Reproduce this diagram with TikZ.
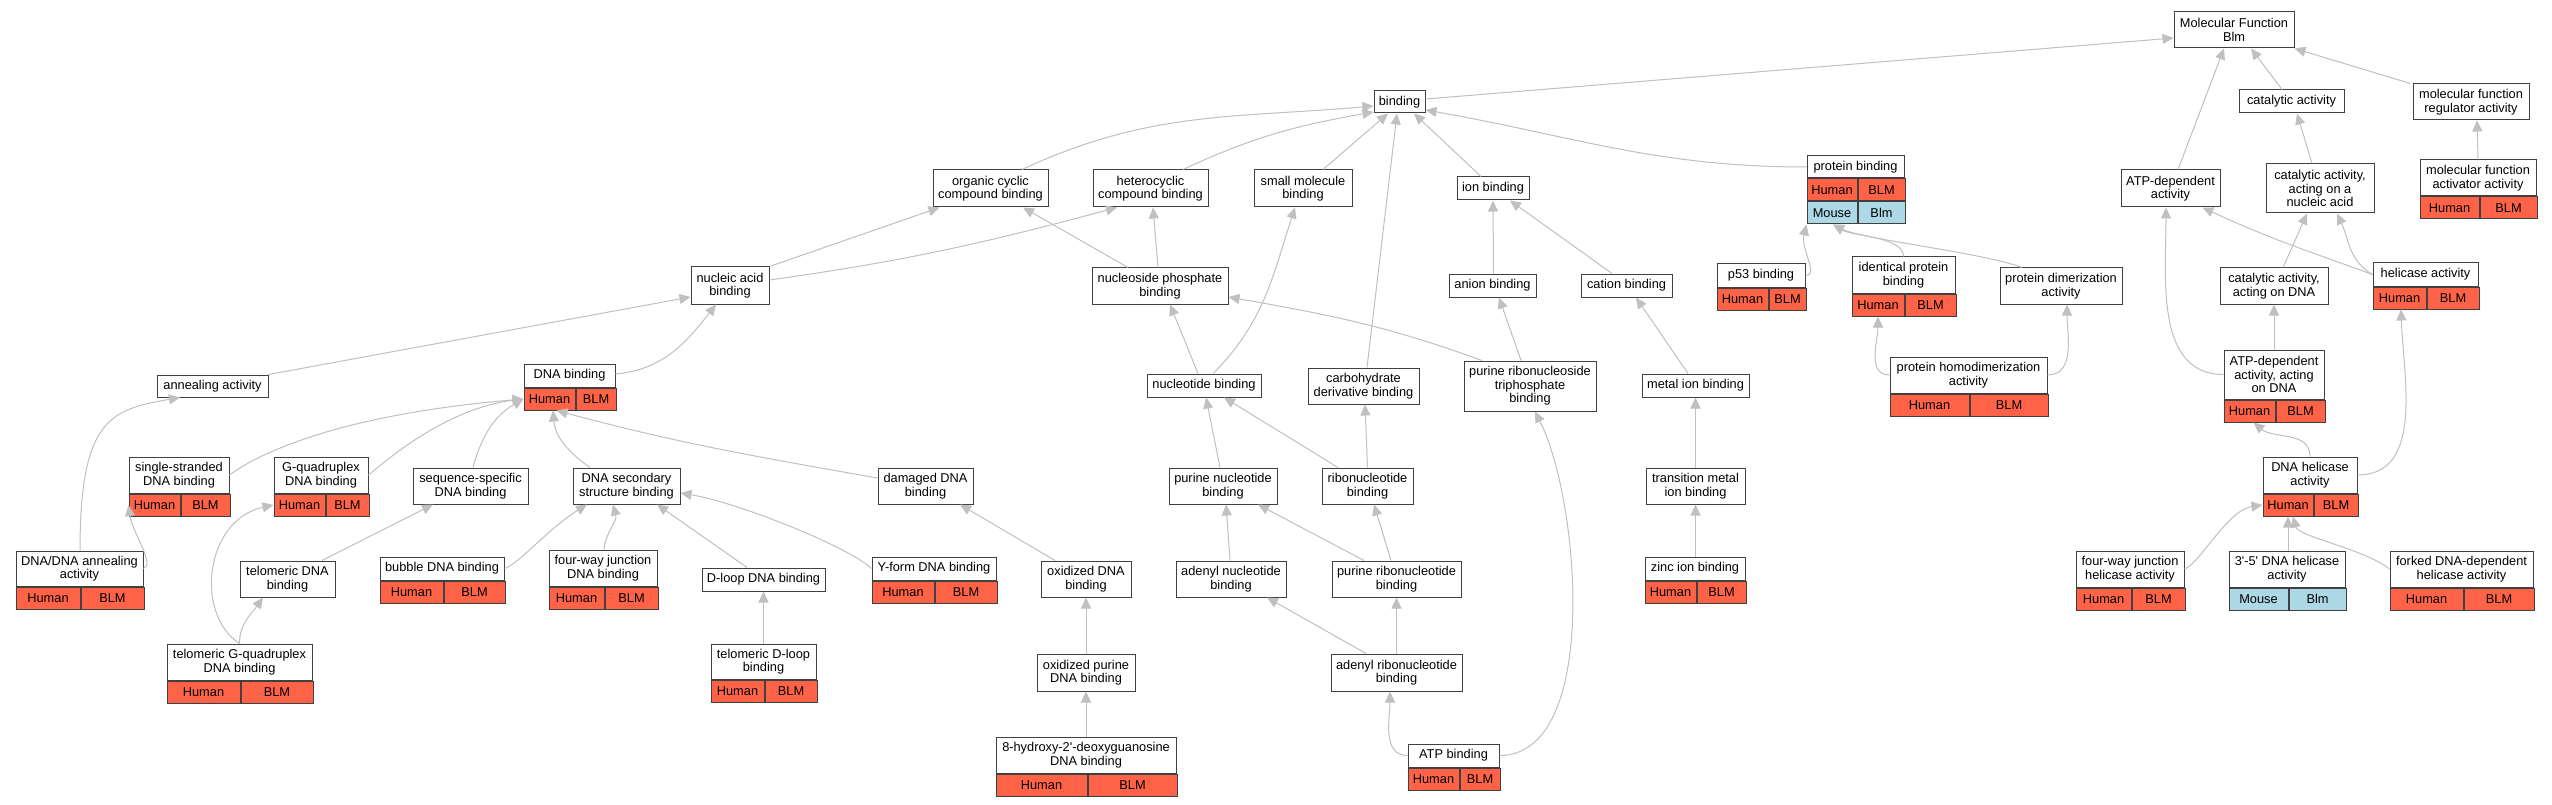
\documentclass[tikz,border=0pt]{standalone}
\usepackage{fontspec}
\newfontfamily\gofont{Liberation Sans}
\usetikzlibrary{arrows.meta}
\definecolor{hum}{HTML}{FF6347}
\definecolor{mus}{HTML}{ADD8E6}
\definecolor{edgegray}{HTML}{C0C0C0}
\tikzset{
  gobox/.style={draw=black!75, line width=1pt, inner sep=0pt, align=center,
    font=\gofont\fontsize{12.8}{13.5}\selectfont},
  term/.style 2 args={gobox, fill=white, minimum width=#1, minimum height=#2},
  cell/.style={gobox, fill=hum, minimum height=22, anchor=north west},
  isa/.style={draw=edgegray, line width=1pt, -{Triangle[length=11pt,width=10pt]}},
}
\begin{document}
\begin{tikzpicture}[x=1pt,y=1pt]
    \path[use as bounding box, fill=white] (0,0) rectangle (2552,-805);

    \node[term={120}{36}] (mf) at (2234,-30) {Molecular Function\\Blm};
    \node[term={51}{22}] (bind) at (1399.5,-102) {binding};
    \node[term={105}{23}] (cat) at (2291.5,-101.5) {catalytic activity};
    \node[term={116}{36}] (mfreg) at (2471,-102) {molecular function\\regulator activity};
    \node[term={115}{37}] (orgcyc) at (990.5,-188.5) {organic cyclic\\compound binding};
    \node[term={115}{37}] (hetcyc) at (1150.5,-188.5) {heterocyclic\\compound binding};
    \node[term={98}{37}] (smallmol) at (1303,-188.5) {small molecule\\binding};
    \node[term={72}{23}] (ionb) at (1493,-188.5) {ion binding};
    \node[term={97}{22}] (protb) at (1855.5,-167) {protein binding};
    \node[term={99}{37}] (atpdep) at (2170.5,-188.5) {ATP-dependent\\activity};
    \node[term={108}{49}] (catna) at (2320,-188.5) {catalytic activity,\\acting on a\\nucleic acid};
    \node[term={116}{36}] (mfact) at (2478,-178) {molecular function\\activator activity};
    \node[term={78}{37}] (nab) at (730,-285.5) {nucleic acid\\binding};
    \node[term={136}{36}] (nspb) at (1160,-286) {nucleoside phosphate\\binding};
    \node[term={87}{23}] (anion) at (1492.5,-285.5) {anion binding};
    \node[term={91}{23}] (cation) at (1626.5,-285.5) {cation binding};
    \node[term={88}{23}] (p53) at (1761,-275.5) {p53 binding};
    \node[term={103}{36}] (idprot) at (1903.5,-275) {identical protein\\binding};
    \node[term={122}{36}] (pdimer) at (2061,-286) {protein dimerization\\activity};
    \node[term={108}{36}] (catdna) at (2274,-286) {catalytic activity,\\acting on DNA};
    \node[term={105}{23}] (helic) at (2425.5,-274.5) {helicase activity};
    \node[term={111}{22}] (anneal) at (212.5,-386) {annealing activity};
    \node[term={91}{23}] (dnab) at (569.5,-375.5) {DNA binding};
    \node[term={114}{23}] (ntb) at (1204,-385.5) {nucleotide binding};
    \node[term={111}{36}] (carbo) at (1363.5,-386) {carbohydrate\\derivative binding};
    \node[term={132}{50}] (prtp) at (1530,-386) {purine ribonucleoside\\triphosphate\\binding};
    \node[term={107}{23}] (metal) at (1695.5,-385.5) {metal ion binding};
    \node[term={157}{36}] (phomo) at (1968.5,-375) {protein homodimerization\\activity};
    \node[term={100}{49}] (atpdna) at (2274,-374.5) {ATP-dependent\\activity, acting\\on DNA};
    \node[term={100}{36}] (ssdna) at (179,-475) {single-stranded\\DNA binding};
    \node[term={94}{36}] (g4) at (321,-475) {G-quadruplex\\DNA binding};
    \node[term={115}{36}] (seqsp) at (470.5,-486) {sequence-specific\\DNA binding};
    \node[term={107}{36}] (dnasec) at (626.5,-486) {DNA secondary\\structure binding};
    \node[term={95}{36}] (damaged) at (925.5,-486) {damaged DNA\\binding};
    \node[term={108}{36}] (purnt) at (1223,-486) {purine nucleotide\\binding};
    \node[term={91}{36}] (ribo) at (1367.5,-486) {ribonucleotide\\binding};
    \node[term={99}{36}] (trans) at (1695.5,-486) {transition metal\\ion binding};
    \node[term={94}{36}] (dnahel) at (2310,-475) {DNA helicase\\activity};
    \node[term={127}{35}] (dnaann) at (79.5,-568.5) {DNA/DNA annealing\\activity};
    \node[term={95}{36}] (telo) at (287.5,-579) {telomeric DNA\\binding};
    \node[term={124}{23}] (bubble) at (442,-568.5) {bubble DNA binding};
    \node[term={108}{36}] (fourway) at (603,-568) {four-way junction\\DNA binding};
    \node[term={123}{23}] (dloop) at (763.5,-579.5) {D-loop DNA binding};
    \node[term={124}{23}] (yform) at (934,-568.5) {Y-form DNA binding};
    \node[term={90}{36}] (oxdna) at (1086,-579) {oxidized DNA\\binding};
    \node[term={110}{36}] (adnt) at (1231,-579) {adenyl nucleotide\\binding};
    \node[term={129}{36}] (purrnt) at (1396.5,-579) {purine ribonucleotide\\binding};
    \node[term={100}{23}] (zinc) at (1695,-568.5) {zinc ion binding};
    \node[term={108}{36}] (fwhel) at (2130,-569) {four-way junction\\helicase activity};
    \node[term={116}{36}] (h35) at (2287,-569) {3'-5' DNA helicase\\activity};
    \node[term={143}{36}] (forked) at (2461.5,-569) {forked DNA-dependent\\helicase activity};
    \node[term={145}{36}] (telog4) at (239.5,-662) {telomeric G-quadruplex\\DNA binding};
    \node[term={105}{35}] (teldloop) at (763.5,-661.5) {telomeric D-loop\\binding};
    \node[term={98}{37}] (oxpur) at (1086,-672.5) {oxidized purine\\DNA binding};
    \node[term={131}{37}] (adrnt) at (1396.5,-672.5) {adenyl ribonucleotide\\binding};
    \node[term={180}{36}] (ohdg) at (1086,-755) {8-hydroxy-2'-deoxyguanosine\\DNA binding};
    \node[term={91}{23}] (atpb) at (1453.5,-755.5) {ATP binding};

    \foreach \n/\a/\b in {protb/50/47, mfact/59/57, p53/51/37, idprot/52/51,
      helic/53/52, dnab/51/40, phomo/79/78, atpdna/51/49, ssdna/51/49, g4/51/43,
      dnahel/50/44, dnaann/64/63, bubble/63/61, fourway/55/53, yform/62/62,
      zinc/51/49, fwhel/55/53, forked/73/70, telog4/73/72, teldloop/53/52,
      ohdg/91/89, atpb/51/40} {
      \node[cell, minimum width=\a] (\n-sp) at (\n.south west) {Human};
      \node[cell, minimum width=\b] (\n-gn) at (\n-sp.north east) {BLM};
    }
    \node[cell, fill=mus, minimum width=50] (protb-ms) at (protb-sp.south west) {Mouse};
    \node[cell, fill=mus, minimum width=47] (protb-mg) at (protb-ms.north east) {Blm};
    \node[cell, fill=mus, minimum width=59] (h35-sp) at (h35.south west) {Mouse};
    \node[cell, fill=mus, minimum width=57] (h35-gn) at (h35-sp.north east) {Blm};

    \draw[isa] ([yshift=3]bind.east) -- ([yshift=-8]mf.west);
    \draw[isa] ([xshift=-9.5]cat.north) -- ([xshift=17]mf.south);
    \draw[isa] ([xshift=-2]mfreg.north west) -- (mf.south east);
    \draw[isa] ([xshift=7.5]atpdep.north) -- ([xshift=-10]mf.south);
    \draw[isa] ([xshift=-8]catna.north) -- ([xshift=5.5]cat.south);
    \draw[isa] (mfact.north) -- ([xshift=6]mfreg.south);
    \draw[isa] ([xshift=9]catdna.north) -- ([xshift=-13]catna.south);
    \draw[isa] (helic.west) to[out=160,in=-25] ([xshift=32]atpdep.south);
    \draw[isa] (helic.west) to[out=150,in=-65] ([xshift=17]catna.south);
    \draw[isa] (atpdna.west) to[out=180,in=-90] ([xshift=-4.5]atpdep.south);
    \draw[isa] (atpdna.north) -- (catdna.south);
    \draw[isa] (dnahel.north) to[out=90,in=-40] ([xshift=4]atpdna-sp.south);
    \draw[isa] (dnahel.east) to[out=0,in=-88] ([xshift=1.5]helic-sp.south);
    \draw[isa] (fwhel.east) .. controls +(15,5) and +(-35,-5) .. (dnahel-sp.west);
    \draw[isa] ([xshift=1]h35.north) -- (dnahel-sp.south);
    \draw[isa] (forked.west) .. controls +(-25,20) and +(5,-20) .. ([xshift=5]dnahel-sp.south);

    \draw[isa] ([xshift=-39]pdimer.north) .. controls +(-40,15) and +(30,-15) .. ([xshift=1]protb-ms.south);
    \draw[isa] (idprot.north) .. controls +(0,20) and +(20,-12) .. ([xshift=1]protb-ms.south);
    \draw[isa] (p53.east) .. controls +(14,0) and +(-6,-25) .. (protb-ms.south west);
    \draw[isa] (phomo.west) to[out=180,in=-90] (idprot-sp.south);
    \draw[isa] (phomo.east) to[out=0,in=-90] ([xshift=6]pdimer.south);
    \draw[isa] (protb.west) to[out=180,in=-10] ([yshift=-8]bind.east);

    \draw[isa] ([xshift=-12]ionb.north) -- ([xshift=14.5]bind.south);
    \draw[isa] ([xshift=1]anion.north) -- (ionb.south);
    \draw[isa] ([xshift=-14.5]cation.north) -- ([xshift=17]ionb.south);
    \draw[isa] ([xshift=-9]prtp.north) -- ([xshift=6.5]anion.south);
    \draw[isa] ([xshift=-7.5]metal.north) -- ([xshift=9.5]cation.south);
    \draw[isa] (trans.north) -- (metal.south);
    \draw[isa] ([xshift=0.5]zinc.north) -- (trans.south);
    \draw[isa] ([xshift=-48]prtp.north) to[out=160,in=-10] ([yshift=-11]nspb.east);

    \draw[isa] ([xshift=-6]ntb.north) -- ([xshift=10]nspb.south);
    \draw[isa] ([xshift=9]ntb.north) to[out=45,in=-108] ([xshift=-8]smallmol.south);
    \draw[isa] ([xshift=3.5]carbo.north) -- ([xshift=-2.5]bind.south);
    \draw[isa] ([xshift=20]smallmol.north) -- ([xshift=-11.5]bind.south);
    \draw[isa] ([xshift=32.5]hetcyc.north) to[out=25,in=190] ([yshift=-10]bind.west);
    \draw[isa] ([xshift=31.5]orgcyc.north) to[out=25,in=185] ([yshift=-4]bind.west);
    \draw[isa] (nab.north east) -- ([xshift=7]orgcyc.south west);
    \draw[isa] ([yshift=5.5]nab.east) to[out=8,in=-165] ([xshift=-33.5]hetcyc.south);
    \draw[isa] ([xshift=-32]nspb.north) -- ([xshift=32.5]orgcyc.south);
    \draw[isa] ([xshift=-2]nspb.north) -- ([xshift=2.5]hetcyc.south);

    \draw[isa] (anneal.north east) -- ([yshift=-11.5]nab.west);
    \draw[isa] ([yshift=1.5]dnab.east) to[out=5,in=-128] ([xshift=-14]nab.south);
    \draw[isa] ([xshift=0.5]dnaann.north) .. controls +(0,131) and +(-70,-12) .. ([xshift=-32.5]anneal.south);
    \draw[isa] (dnaann.east) .. controls +(12,4) and +(4,-28) .. (ssdna-sp.west);
    \draw[isa] (ssdna.east) .. controls +(20,15) and +(-200,-17) .. (dnab-sp.west);
    \draw[isa] (g4.east) .. controls +(15,12) and +(-80,-10) .. (dnab-sp.west);
    \draw[isa] ([xshift=2.5]seqsp.north) to[out=75,in=-150] (dnab-sp.west);
    \draw[isa] ([xshift=34.5]telo.north) -- ([xshift=-37.5]seqsp.south);
    \draw[isa] (telog4.north) to[out=90,in=-125] ([xshift=-24.5]telo.south);
    \draw[isa] (telog4.north) .. controls +(-45,29) and +(-69,-15) .. (g4-sp.west);
    \draw[isa] ([xshift=-36.5]dnasec.north) to[out=145,in=-85] ([xshift=3.5]dnab-sp.south);
    \draw[isa] ([yshift=8]damaged.west) to[out=170,in=-15] ([xshift=7]dnab-sp.south);
    \draw[isa] (bubble.east) .. controls +(15,5) and +(-40,-25) .. ([xshift=-39.5]dnasec.south);
    \draw[isa] ([xshift=1]fourway.north) to[out=85,in=-75] ([xshift=-13.5]dnasec.south);
    \draw[isa] ([xshift=-16.5]dloop.north) -- ([xshift=30.5]dnasec.south);
    \draw[isa] (yform.west) .. controls +(-20,20) and +(60,-10) .. ([yshift=-7]dnasec.east);
    \draw[isa] (teldloop.north) -- (dloop.south);

    \draw[isa] ([xshift=-31]oxdna.north) -- ([xshift=34.5]damaged.south);
    \draw[isa] (oxpur.north) -- (oxdna.south);
    \draw[isa] (ohdg.north) -- (oxpur.south);
    \draw[isa] ([xshift=-3]purnt.north) -- ([xshift=2]ntb.south);
    \draw[isa] ([xshift=-29.5]ribo.north) -- ([xshift=20]ntb.south);
    \draw[isa] (ribo.north) -- ([xshift=1.5]carbo.south);
    \draw[isa] ([xshift=-1]adnt.north) -- ([xshift=3]purnt.south);
    \draw[isa] ([xshift=-32.5]purrnt.north) -- ([xshift=35]purnt.south);
    \draw[isa] ([xshift=-5.5]purrnt.north) -- ([xshift=6.5]ribo.south);
    \draw[isa] ([xshift=-30.5]adrnt.north) -- ([xshift=36]adnt.south);
    \draw[isa] (adrnt.north) -- (purrnt.south);
    \draw[isa] (atpb.west) to[out=180,in=-90] ([xshift=-6.5]adrnt.south);
    \draw[isa] (atpb.east) .. controls +(101,0) and +(45,-89) .. ([xshift=5]prtp.south);
\end{tikzpicture}
\end{document}
